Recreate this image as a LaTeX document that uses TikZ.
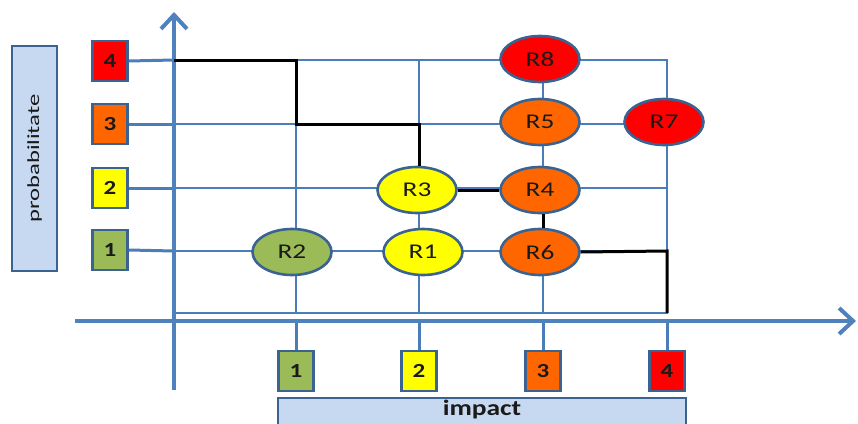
\documentclass[tikz,border=0pt]{standalone}
\usepackage{fontspec}
\usepackage{graphicx}
\setmainfont{Carlito}
\usetikzlibrary{shapes.geometric,arrows.meta,backgrounds}
\definecolor{axisblue}{HTML}{4F81BD}
\definecolor{gridblue}{HTML}{4A7EBB}
\definecolor{edgeblue}{HTML}{3B6391}
\definecolor{labelfill}{HTML}{C6D9F1}
\definecolor{lvgreen}{HTML}{9BBB59}
\definecolor{lvyellow}{HTML}{FFFF00}
\definecolor{lvorange}{HTML}{FF6600}
\definecolor{lvred}{HTML}{FF0000}
\definecolor{txt}{HTML}{1A1A1A}
% wide lettering: the labels are set broader than the face's natural width
\newcommand\widen[2]{\scalebox{#1}[1]{#2}}
\tikzset{
  axisline/.style={draw=axisblue, line width=4pt,
    -{Straight Barb[length=14pt,width=26pt,line width=4pt]}},
  gridline/.style={draw=gridblue, line width=2pt},
  tieline/.style={draw=gridblue, line width=3pt},
  pathline/.style={draw=black, line width=3pt, line join=miter},
  levelbox/.style={draw=edgeblue, line width=2.4pt, minimum width=35pt,
    minimum height=40pt, inner sep=0pt, text=txt,
    font=\bfseries\fontsize{20}{20}\selectfont},
  labelbox/.style={draw=edgeblue, line width=2.4pt, fill=labelfill,
    inner sep=0pt, text=txt},
  risk/.style={ellipse, draw=edgeblue, line width=2.6pt, minimum width=79pt,
    minimum height=46pt, inner sep=0pt, text=txt,
    font=\fontsize{21}{21}\selectfont}
}
\begin{document}
\begin{tikzpicture}[x=1pt,y=-1pt]
\useasboundingbox (0,0) rectangle (858,423);

% axis lines
\coordinate (ybot) at (174,390);
\coordinate (ytop) at (174,12);
\coordinate (xleft) at (75,321);
\coordinate (xright) at (856,321);

% grid corners
\coordinate (g00) at (174,313);
\coordinate (g40) at (667,313);
\coordinate (g04) at (174,60);
\coordinate (g44) at (667,60);
\coordinate (g14) at (296,60);
\coordinate (g24) at (419,60);
\coordinate (g34) at (543,60);
\coordinate (g10) at (296,313);
\coordinate (g20) at (419,313);
\coordinate (g30) at (543,313);
\coordinate (g13) at (296,124);
\coordinate (g23) at (419,124);
\coordinate (g01) at (174,251);
\coordinate (g02) at (174,188);
\coordinate (g03) at (174,124);
\coordinate (g41) at (667,251);
\coordinate (g42) at (667,188);
\coordinate (g43) at (667,124);

% points where the impact ticks leave the horizontal axis
\coordinate (t1) at (296,321);
\coordinate (t2) at (419,321);
\coordinate (t3) at (543,321);
\coordinate (t4) at (667,321);

% axis titles
\node[labelbox, minimum width=225pt, minimum height=45pt, rotate=90,
      font=\fontsize{17}{17}\selectfont] (ptitle) at (34.5,158.5)
      {\widen{1.45}{probabilitate}};
% the impact panel runs past the lower page edge
\draw[labelbox] (278,398) rectangle (686,432);
\node[text=txt, inner sep=0pt, font=\bfseries\fontsize{22}{22}\selectfont]
      (ititle) at (482,410) {\widen{1.25}{impact}};

% probability levels
\node[levelbox, fill=lvred]    (p4) at (110,61)  {\widen{1.25}{4}};
\node[levelbox, fill=lvorange] (p3) at (110,124) {\widen{1.25}{3}};
\node[levelbox, fill=lvyellow] (p2) at (110,188) {\widen{1.25}{2}};
\node[levelbox, fill=lvgreen]  (p1) at (110,250) {\widen{1.25}{1}};

% impact levels
\node[levelbox, fill=lvgreen]  (i1) at (296,371) {\widen{1.25}{1}};
\node[levelbox, fill=lvyellow] (i2) at (419,371) {\widen{1.25}{2}};
\node[levelbox, fill=lvorange] (i3) at (543,371) {\widen{1.25}{3}};
\node[levelbox, fill=lvred]    (i4) at (667,371) {\widen{1.25}{4}};

% risks
\node[risk, fill=lvred]    (R8) at (540,59)  {\widen{1.3}{R8}};
\node[risk, fill=lvorange] (R5) at (540,122) {\widen{1.3}{R5}};
\node[risk, fill=lvred]    (R7) at (664,122) {\widen{1.3}{R7}};
\node[risk, fill=lvyellow] (R3) at (417,190) {\widen{1.3}{R3}};
\node[risk, fill=lvorange] (R4) at (540,190) {\widen{1.3}{R4}};
\node[risk, fill=lvgreen]  (R2) at (292,252) {\widen{1.3}{R2}};
\node[risk, fill=lvyellow] (R1) at (423,252) {\widen{1.3}{R1}};
\node[risk, fill=lvorange] (R6) at (540,252) {\widen{1.3}{R6}};

\begin{pgfonlayer}{background}
  % grid
  \draw[gridline] (g04) -- (g44) -- (g40) -- (g00);
  \draw[gridline] (g03) -- (g43);
  \draw[gridline] (g02) -- (g42);
  \draw[gridline] (g01) -- (g41);
  \draw[gridline] (g14) -- (g10);
  \draw[gridline] (g24) -- (g20);
  \draw[gridline] (g34) -- (g30);
  % ties from the level boxes to the axes
  \draw[tieline] (p4.east) -- (g04);
  \draw[tieline] (p3.east) -- (g03);
  \draw[tieline] (p2.east) -- (g02);
  \draw[tieline] (p1.east) -- (g01);
  \draw[tieline] (t1) -- (i1.north);
  \draw[tieline] (t2) -- (i2.north);
  \draw[tieline] (t3) -- (i3.north);
  \draw[tieline] (t4) -- (i4.north);
  % axes
  \draw[axisline] (ybot) -- (ytop);
  \draw[axisline] (xleft) -- (xright);
\end{pgfonlayer}

% risk boundary
\draw[pathline] (g04) -- (g14) -- (g13) -- (g23) -- (g23 |- R3.north);
\draw[pathline] (R3.east) -- (R4.west);
\draw[pathline] (R4.south -| g30) -- (R6.north -| g30);
\draw[pathline] (R6.east) -- (g41) -- (g40);
\end{tikzpicture}
\end{document}
